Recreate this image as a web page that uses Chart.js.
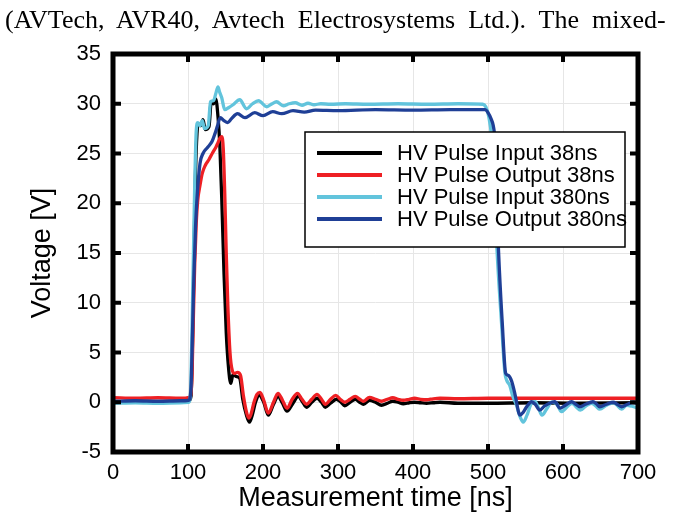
<!DOCTYPE html>
<html>
<head>
<meta charset="utf-8">
<script src="https://cdn.jsdelivr.net/npm/chart.js@4"></script>
<style>
  body { margin: 0; background: #fff; }
  #wrap { position: relative; width: 680px; height: 525px; }
  #caption {
    position: absolute; top: 5px; left: 5px;
    font-family: "Liberation Serif", "Times New Roman", serif;
    font-size: 26px; line-height: 30px; white-space: nowrap; word-spacing: 6.5px; color: #000;
  }
  canvas { position: absolute; left: 0; top: 0; }
</style>
</head>
<body>
<div id="wrap">
  <canvas id="chart" width="680" height="525"></canvas>
  <div id="caption">(AVTech, AVR40, Avtech Electrosystems Ltd.). The mixed-</div>
</div>
<script>
// axis ticks
const xTicks = [0, 100, 200, 300, 400, 500, 600, 700];
const yTicks = [-5, 0, 5, 10, 15, 20, 25, 30, 35];

const seriesNames = ["HV Pulse Input 38ns", "HV Pulse Output 38ns", "HV Pulse Input 380ns", "HV Pulse Output 380ns"];

// HV Pulse Input 38ns
const timeIn38 = [0, 30, 60, 90, 101, 104, 106, 108, 110, 112, 114, 117, 120, 123, 128, 131, 134, 137, 140, 142.5,
  145, 148, 151, 154, 157, 160, 164, 169, 173, 178, 182, 186, 190, 195, 201, 207, 214, 220, 226, 232,
  240, 247, 253, 258, 265, 272, 278, 283, 290, 298, 304, 309, 316, 323, 329, 334, 342, 350, 358, 366,
  373, 380, 387, 395, 402, 410, 418, 427, 436, 460, 500, 560, 620, 700];
const voltIn38 = [0.05, 0.0, 0.05, 0.0, 0.1, 0.6, 6, 15, 23, 27, 28, 27.8, 28.4, 27.4, 27.7, 30.2, 30.0, 30.5, 28.7, 25.7,
  20.5, 13, 7, 3.5, 1.9, 2.8, 2.6, 2.4, 0.3, -1.3, -2.0, -1.2, 0.0, 0.7, 0.0, -1.3, -0.2, 0.6, -0.1, -0.9,
  -0.1, 0.6, 0.0, -0.5, 0.0, 0.4, 0.0, -0.5, -0.1, 0.3, 0.0, -0.35, 0.0, 0.3, 0.0, -0.2, 0.2, 0.0, -0.3, -0.1,
  0.1, 0.0, -0.15, -0.05, 0.0, -0.05, -0.1, -0.05, 0.0, -0.1, -0.1, -0.05, -0.1, -0.05];

// HV Pulse Output 38ns
const timeOut38 = [0, 30, 60, 90, 102, 105, 107, 109, 111, 113, 116, 119, 123, 128, 133, 137, 140, 143, 145, 147,
  149, 151, 153, 156, 159, 162, 166, 170, 174, 178, 181, 184, 188, 192, 196, 201, 207, 214, 220, 226,
  232, 239, 246, 252, 258, 265, 272, 278, 283, 290, 297, 303, 309, 316, 323, 329, 334, 342, 350, 358,
  366, 373, 380, 387, 395, 402, 410, 418, 427, 436, 460, 500, 560, 620, 700];
const voltOut38 = [0.45, 0.4, 0.45, 0.4, 0.5, 2, 8, 14, 18, 20.3, 21.8, 23, 23.8, 24.4, 25.1, 25.6, 26.1, 26.6, 26.7, 25.5,
  21, 15, 10, 5, 3.2, 2.9, 3.0, 2.7, 0.6, -1.0, -1.6, -1.2, 0.0, 0.8, 1.0, 0.2, -1.1, 0.0, 0.9, 0.2,
  -0.6, 0.3, 0.9, 0.3, -0.2, 0.3, 0.8, 0.3, -0.2, 0.3, 0.7, 0.3, 0.0, 0.3, 0.6, 0.3, 0.1, 0.5, 0.3, 0.1,
  0.3, 0.45, 0.3, 0.2, 0.3, 0.4, 0.3, 0.25, 0.35, 0.4, 0.35, 0.4, 0.4, 0.4, 0.4];

// HV Pulse Input 380ns
const timeIn380 = [0, 30, 60, 90, 101, 103, 105, 107, 109, 111, 113, 116, 119, 122, 127, 130, 134, 137, 140, 142,
  145, 149, 154, 160, 169, 178, 186, 194, 205, 212, 218, 227, 235, 243, 252, 260, 268, 277, 290, 310,
  340, 380, 420, 460, 493, 497, 501, 505, 508, 512, 518, 522.5, 525, 529, 533, 538, 542, 547, 552, 558,
  563, 567, 572, 578, 585, 592, 598, 605, 612, 618, 623, 630, 638, 644, 649, 658, 667, 672, 678, 685,
  692, 700];
const voltIn380 = [-0.1, -0.05, -0.1, -0.05, 0.0, 0.5, 6, 14, 22, 27.3, 28.1, 27.8, 28.3, 27.5, 27.8, 30.2, 30.3, 31.0, 31.7, 31.2,
  30.6, 29.4, 29.6, 29.9, 30.4, 29.5, 30.0, 30.3, 29.7, 30.0, 30.2, 29.8, 30.0, 30.1, 29.85, 30.05, 29.9, 30.0, 29.95, 30.0,
  29.95, 30.0, 29.95, 30.0, 29.95, 29.7, 28.7, 26.5, 22.5, 15.3, 8.0, 3.0, 2.2, 1.7, 0.6, -0.3, -1.3, -2.0, -1.3, -0.1,
  0.05, -0.5, -1.3, -0.7, 0.0, -0.2, -0.95, -0.5, -0.1, -0.5, -0.8, -0.4, -0.1, -0.4, -0.7, -0.3, -0.05, -0.3, -0.7, -0.3,
  -0.4, -0.6];

// HV Pulse Output 380ns
const timeOut380 = [0, 30, 60, 90, 101, 104, 106, 108, 110, 112, 116, 120, 126, 132, 136, 139, 143, 148, 153, 158,
  166, 176, 189, 200, 213, 225, 240, 255, 270, 300, 350, 400, 450, 496, 500, 504, 507, 509, 514, 519,
  523.6, 527, 531.6, 536, 542.7, 547, 551.6, 558, 563, 569, 575, 582, 589, 596, 603, 611.6, 617, 622.7, 630, 640,
  645, 649, 658, 667, 672, 678, 686, 694, 700];
const voltOut380 = [0.1, 0.15, 0.1, 0.15, 0.2, 1.5, 7, 13, 17.5, 20.5, 24, 25.0, 25.6, 26.2, 27.0, 27.7, 28.6, 28.3, 28.1, 28.5,
  29.0, 28.6, 29.1, 28.8, 29.2, 29.0, 29.3, 29.15, 29.35, 29.3, 29.4, 29.35, 29.4, 29.4, 29.1, 28.5, 27.8, 26.5, 15.3, 8.0,
  2.9, 2.7, 2.1, 0.8, -1.3, -1.0, -0.45, 0.05, -0.2, -0.8, -0.4, -0.1, 0.05, -0.6, -0.3, 0.05, -0.2, -0.45, -0.2, 0.05,
  -0.2, -0.45, -0.2, 0.0, -0.2, -0.45, -0.2, 0.0, -0.2];

const colors = ["#000000", "#ee2024", "#62c4dc", "#1f3f96"];

const toPoints = (ts, vs) => ts.map((t, i) => ({ x: t, y: vs[i] }));

const series = [
  toPoints(timeIn38, voltIn38),
  toPoints(timeOut38, voltOut38),
  toPoints(timeIn380, voltIn380),
  toPoints(timeOut380, voltOut380),
];

// inward ticks on all four sides + thick box
const framePlugin = {
  id: "frame",
  afterDatasetsDraw(chart) {
    const { ctx, chartArea: a, scales } = chart;
    ctx.save();
    ctx.strokeStyle = "#000";
    ctx.lineWidth = 4;
    const len = 8;
    ctx.beginPath();
    xTicks.forEach((v) => {
      const px = scales.x.getPixelForValue(v);
      ctx.moveTo(px, a.bottom); ctx.lineTo(px, a.bottom - len);
      ctx.moveTo(px, a.top); ctx.lineTo(px, a.top + len);
    });
    yTicks.forEach((v) => {
      const py = scales.y.getPixelForValue(v);
      ctx.moveTo(a.left, py); ctx.lineTo(a.left + len, py);
      ctx.moveTo(a.right, py); ctx.lineTo(a.right - len, py);
    });
    ctx.stroke();
    ctx.lineWidth = 5;
    ctx.strokeRect(a.left, a.top, a.right - a.left, a.bottom - a.top);
    ctx.restore();
  },
};

// legend box inside the plot
const legendPlugin = {
  id: "boxLegend",
  afterDraw(chart) {
    const { ctx } = chart;
    const x0 = 305, y0 = 132, w = 320, h = 115;
    ctx.save();
    ctx.fillStyle = "#fff";
    ctx.fillRect(x0, y0, w, h);
    ctx.strokeStyle = "#000";
    ctx.lineWidth = 1.5;
    ctx.strokeRect(x0, y0, w, h);
    ctx.font = "22px 'Liberation Sans', Arial, sans-serif";
    ctx.textBaseline = "middle";
    chart.data.datasets.forEach((ds, i) => {
      const y = y0 + 21 + i * 22;
      ctx.strokeStyle = ds.borderColor;
      ctx.lineWidth = 4;
      ctx.beginPath();
      ctx.moveTo(x0 + 12, y);
      ctx.lineTo(x0 + 77, y);
      ctx.stroke();
      ctx.fillStyle = "#000";
      ctx.fillText(ds.label, x0 + 92, y + 1);
    });
    ctx.restore();
  },
};

const order = [4, 3, 2, 1];

new Chart(document.getElementById("chart").getContext("2d"), {
  type: "line",
  data: {
    datasets: series.map((pts, i) => ({
      label: seriesNames[i],
      data: pts,
      borderColor: colors[i],
      borderWidth: 3.3,
      pointRadius: 0,
      cubicInterpolationMode: "monotone",
      fill: false,
      order: order[i],
    })),
  },
  options: {
    responsive: false,
    animation: false,
    events: [],
    layout: { padding: { top: 54, right: 42, left: 0, bottom: 0 } },
    plugins: { legend: { display: false }, tooltip: { enabled: false } },
    scales: {
      x: {
        type: "linear",
        min: 0,
        max: 700,
        afterFit: (s) => { s.height = 73; },
        afterBuildTicks: (s) => { s.ticks = xTicks.map((v) => ({ value: v })); },
        border: { display: false },
        grid: { color: "#e6e6e6", lineWidth: 1, drawTicks: false },
        ticks: { color: "#000", padding: 8, font: { family: "'Liberation Sans', Arial, sans-serif", size: 22 } },
        title: {
          display: true,
          text: "Measurement time [ns]",
          color: "#000",
          padding: { top: 0, bottom: 10 },
          font: { family: "'Liberation Sans', Arial, sans-serif", size: 27 },
        },
      },
      y: {
        type: "linear",
        min: -5,
        max: 35,
        afterFit: (s) => { s.width = 113; },
        afterBuildTicks: (s) => { s.ticks = yTicks.map((v) => ({ value: v })); },
        border: { display: false },
        grid: { color: "#e6e6e6", lineWidth: 1, drawTicks: false },
        ticks: { color: "#000", padding: 12, font: { family: "'Liberation Sans', Arial, sans-serif", size: 22 } },
        title: {
          display: true,
          text: "Voltage [V]",
          color: "#000",
          padding: { top: 26, bottom: 0 },
          font: { family: "'Liberation Sans', Arial, sans-serif", size: 27 },
        },
      },
    },
  },
  plugins: [framePlugin, legendPlugin],
});
</script>
</body>
</html>
